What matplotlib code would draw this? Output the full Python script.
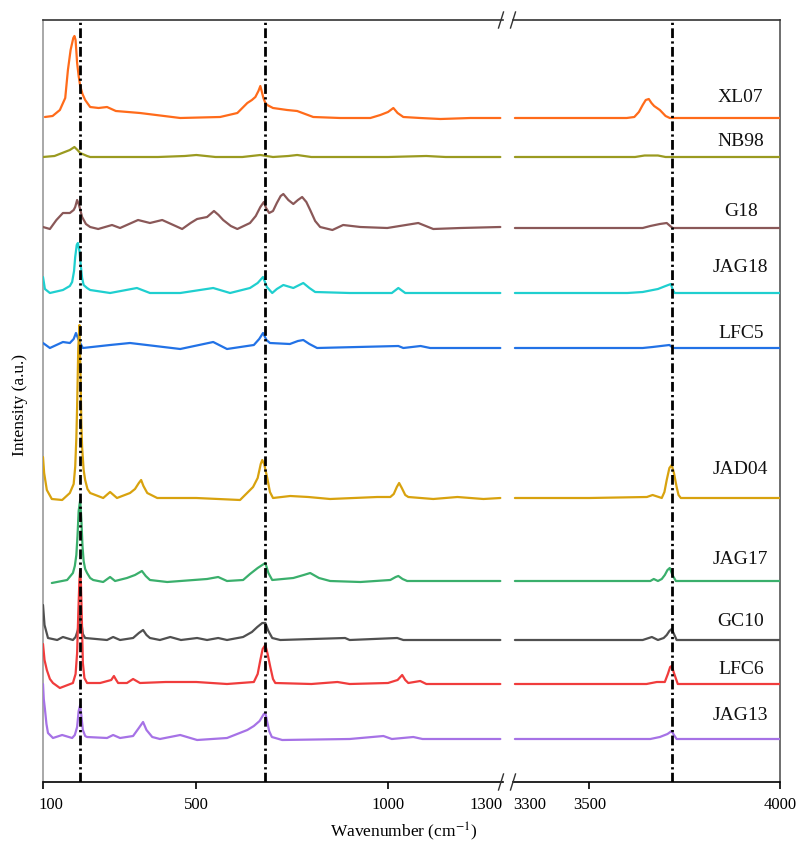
import matplotlib
matplotlib.use("Agg")
import matplotlib.pyplot as plt
from matplotlib.lines import Line2D
from matplotlib.transforms import ScaledTranslation

plt.rcParams["font.family"] = ["Liberation Serif", "DejaVu Serif"]
plt.rcParams["mathtext.fontset"] = "stix"

# ---- Raman spectra: (wavenumber cm-1, relative intensity a.u.) ----
XL07_LOW = [(105, 1), (125, 2), (144, 8), (158, 20), (165, 48), (172, 68), (179, 80), (182, 82),
            (185, 78), (189, 55), (193, 42), (197, 32), (203, 24), (210, 18), (223, 11), (245, 10),
            (267, 11), (290, 7), (353, 5), (458, 0), (562, 1), (607, 5), (633, 15), (645, 18),
            (654, 21), (662, 27), (667, 32), (671, 26), (675, 20), (680, 15), (685, 13), (700, 10),
            (737, 8), (763, 7), (805, 1), (875, 0), (954, 0), (980, 3), (1000, 6), (1014, 10),
            (1025, 5), (1040, 1), (1084, 0), (1137, -1), (1215, 0), (1293, 0)]
XL07_HIGH = [(3305, 0), (3450, 0), (3598, 0), (3618, 1), (3630, 6), (3640, 13), (3648, 18),
             (3656, 19), (3663, 15), (3670, 12), (3685, 8), (3700, 2), (3711, 0), (3800, 0),
             (4000, 0)]

NB98_LOW = [(100, 0), (130, 1), (150, 4), (170, 7), (182, 10), (190, 7), (197, 4), (215, 1),
            (223, 0), (400, 0), (470, 1), (500, 2), (550, 0), (620, 0), (667, 2), (700, 0),
            (740, 1), (763, 2), (800, 0), (1000, 0), (1100, 1), (1150, 0), (1293, 0)]
NB98_HIGH = [(3305, 0), (3620, 0), (3645, 1.5), (3680, 1.5), (3700, 0), (4000, 0)]

G18_LOW = [(100, 1), (118, -1), (135, 8), (152, 15), (170, 15), (180, 18), (184, 21), (189, 28),
           (193, 24), (196, 20), (202, 11), (212, 4), (223, 1), (244, -1), (280, 3), (301, 0),
           (348, 8), (379, 5), (411, 8), (440, 3), (463, -1), (485, 5), (502, 9), (528, 11),
           (546, 17), (558, 13), (570, 8), (590, 2), (607, -1), (640, 5), (655, 12), (667, 21),
           (676, 26), (682, 20), (690, 15), (700, 17), (710, 25), (720, 32), (727, 34),
           (740, 28), (753, 24), (765, 28), (776, 31), (787, 26), (797, 18), (810, 7), (823, 1),
           (855, -2), (883, 3), (928, 1), (998, 0), (1079, 5), (1118, -1), (1189, 0), (1293, 1)]
G18_HIGH = [(3305, 0), (3450, 0), (3640, 0), (3660, 2), (3685, 4), (3703, 5), (3712, 2),
            (3719, 0), (4000, 0)]

JAG18_LOW = [(100, 16), (105, 4), (118, 0), (152, 3), (170, 7), (176, 11), (181, 22), (184, 36),
             (188, 48), (191, 50), (195, 42), (199, 26), (202, 15), (206, 8), (215, 5), (223, 3),
             (275, 0), (345, 5), (379, 0), (458, 0), (544, 5), (588, 0), (640, 5), (660, 10),
             (674, 16), (684, 6), (698, 0), (710, 4), (727, 8), (753, 5), (779, 10), (795, 5),
             (810, 1), (900, 0), (1010, 0), (1027, 5), (1045, 0), (1293, 0)]
JAG18_HIGH = [(3305, 0), (3600, 0), (3640, 1), (3680, 4), (3700, 7), (3714, 9), (3719, 3),
              (3724, 0), (4000, 0)]

LFC5_LOW = [(100, 5), (118, 0), (152, 6), (170, 5), (180, 9), (186, 15), (191, 10), (197, 5),
            (204, 0), (275, 3), (327, 5), (458, -1), (544, 6), (580, -1), (650, 3), (664, 9),
            (674, 15), (683, 8), (692, 5), (744, 4), (765, 7), (779, 8), (795, 4), (815, 0),
            (1027, 2), (1040, 0), (1085, 2), (1110, 0), (1293, 0)]
LFC5_HIGH = [(3305, 0), (3640, 0), (3666, 1), (3710, 3), (3720, 0), (4000, 0)]

JAD04_LOW = [(100, 41), (103, 25), (110, 8), (123, -1), (150, -2), (170, 5), (180, 14), (184, 31),
             (187, 60), (189, 91), (192, 150), (195, 173), (198, 120), (200, 75), (202, 51),
             (206, 28), (210, 18), (216, 9), (223, 5), (257, 0), (275, 6), (293, 0), (327, 5),
             (340, 9), (350, 15), (356, 18), (362, 12), (372, 5), (398, 0), (500, 0), (614, -2),
             (635, 6), (648, 11), (660, 20), (668, 34), (672, 38), (677, 34), (685, 20), (692, 6),
             (700, 0), (745, 2), (792, 1), (849, -1), (972, 1), (1006, 1), (1015, 4), (1023, 11),
             (1029, 15), (1036, 10), (1045, 3), (1053, 1), (1118, -1), (1181, 1), (1249, -1),
             (1293, 0)]
JAD04_HIGH = [(3305, 0), (3500, 0), (3651, 1), (3666, 3), (3690, 0), (3697, 6), (3703, 18),
              (3710, 30), (3716, 33), (3722, 25), (3729, 11), (3734, 3), (3740, 0), (4000, 0)]

JAG17_LOW = [(123, -2), (163, 1), (178, 8), (183, 15), (187, 26), (190, 45), (193, 70), (197, 81),
             (200, 62), (203, 35), (206, 20), (210, 12), (215, 8), (223, 3), (231, 1), (257, -1),
             (275, 4), (288, 0), (319, 3), (340, 6), (358, 10), (368, 5), (379, 1), (424, -1),
             (528, 2), (557, 4), (580, 0), (622, 1), (640, 7), (660, 13), (680, 18), (688, 8),
             (698, 1), (753, 3), (780, 6), (797, 8), (820, 3), (849, 0), (928, -1), (1006, 1),
             (1020, 4), (1027, 5), (1038, 2), (1050, 0), (1293, 0)]
JAG17_HIGH = [(3305, 0), (3660, 0), (3669, 2), (3680, 0), (3690, 2), (3698, 6), (3705, 11),
              (3711, 13), (3718, 6), (3727, 0), (4000, 0)]

GC10_LOW = [(100, 35), (104, 15), (113, 2), (137, 0), (152, 3), (178, 0), (185, 3), (191, 10),
            (194, 20), (197, 25), (200, 18), (204, 6), (210, 2), (267, 0), (283, 3), (301, 0),
            (335, 2), (350, 7), (361, 10), (370, 5), (379, 2), (405, 0), (432, 3), (460, 0),
            (502, 2), (528, 0), (557, 2), (580, 0), (622, 3), (645, 8), (659, 13), (672, 17),
            (680, 17), (688, 9), (698, 2), (719, 0), (888, 2), (900, 0), (1024, 2), (1040, 0),
            (1293, 0)]
GC10_HIGH = [(3305, 0), (3640, 0), (3664, 3), (3680, 0), (3695, 2), (3703, 5), (3710, 9),
             (3716, 11), (3722, 6), (3729, 0), (4000, 0)]

LFC6_LOW = [(100, 40), (104, 24), (110, 14), (118, 5), (126, 1), (144, -4), (178, 1), (185, 10),
            (189, 31), (192, 70), (195, 104), (197, 114), (199, 100), (201, 70), (204, 21),
            (208, 6), (215, 1), (249, 1), (278, 4), (285, 8), (291, 4), (296, 1), (319, 1),
            (335, 5), (353, 1), (420, 2), (500, 2), (580, 0), (650, 2), (660, 10), (667, 24),
            (673, 35), (680, 39), (686, 30), (693, 17), (700, 5), (706, 1), (800, 0), (868, 2),
            (900, 0), (1000, 1), (1025, 4), (1037, 9), (1045, 4), (1053, 1), (1084, 3), (1100, 0),
            (1293, 0)]
LFC6_HIGH = [(3305, 0), (3650, 0), (3677, 2), (3698, 2), (3706, 10), (3712, 17), (3716, 18),
             (3722, 11), (3732, 0), (4000, 0)]

JAG13_LOW = [(100, 55), (102, 40), (105, 30), (109, 15), (113, 6), (126, 1), (150, 4), (176, 1),
             (183, 4), (189, 12), (193, 28), (197, 34), (201, 20), (204, 9), (210, 3), (215, 2),
             (267, 1), (283, 4), (301, 1), (335, 3), (350, 11), (361, 17), (370, 9), (385, 2),
             (405, 0), (458, 4), (502, -1), (580, 1), (633, 9), (650, 13), (665, 18), (676, 25),
             (680, 26), (685, 17), (690, 8), (697, 2), (706, 1), (724, -1), (900, 0), (988, 3),
             (1010, 0), (1066, 2), (1090, 0), (1293, 0)]
JAG13_HIGH = [(3305, 0), (3660, 0), (3685, 2), (3705, 5), (3716, 8), (3722, 4), (3729, 0),
              (4000, 0)]

SAMPLES = ["XL07", "NB98", "G18", "JAG18", "LFC5", "JAD04", "JAG17", "GC10", "LFC6", "JAG13"]
LOW = [XL07_LOW, NB98_LOW, G18_LOW, JAG18_LOW, LFC5_LOW, JAD04_LOW, JAG17_LOW, GC10_LOW,
       LFC6_LOW, JAG13_LOW]
HIGH = [XL07_HIGH, NB98_HIGH, G18_HIGH, JAG18_HIGH, LFC5_HIGH, JAD04_HIGH, JAG17_HIGH,
        GC10_HIGH, LFC6_HIGH, JAG13_HIGH]

# vertical stacking offsets and label heights
OFFSETS = [664, 625, 554, 489, 434, 284, 201, 142, 98, 43]
LABEL_Y = [685, 641, 571, 515, 449, 312, 222, 160, 112, 66]
COLORS = ["#ff6b1a", "#9a9a20", "#8a5858", "#1fcfcf", "#2272e6", "#d8a20e", "#3aaf6c",
          "#505050", "#f03c3c", "#a672e6"]

# reference band positions
BANDS_LOW = [197, 680]
BANDS_HIGH = [3716]

LOW_RANGE = (100, 1300)
HIGH_RANGE = (3300, 4000)
LOW_TICKS = [100, 500, 1000, 1300]
HIGH_TICKS = [3300, 3500, 4000]

W, H = 798, 847
fig = plt.figure(figsize=(W / 100, H / 100), dpi=100)


def fx(px):
    return px / W


def fy(py):
    return 1 - py / H


TOP, BOT = 20, 782
axL = fig.add_axes([fx(43), fy(BOT), fx(503) - fx(43), fy(TOP) - fy(BOT)])
axR = fig.add_axes([fx(513), fy(BOT), fx(780) - fx(513), fy(TOP) - fy(BOT)])

for ax, data, rng in ((axL, LOW, LOW_RANGE), (axR, HIGH, HIGH_RANGE)):
    for seg, off, col in zip(data, OFFSETS, COLORS):
        ax.plot([w for w, _ in seg], [off + v for _, v in seg], color=col, lw=1.6,
                solid_joinstyle="round", solid_capstyle="round", zorder=3)
    ax.set_xlim(*rng)
    ax.set_ylim(0, BOT - TOP)
    ax.set_yticks([])

dash = (0, (3.5, 1.2, 0.8, 1.2))
for b in BANDS_LOW:
    axL.axvline(b, color="black", lw=2, ls=dash, zorder=5)
for b in BANDS_HIGH:
    axR.axvline(b, color="black", lw=2, ls=dash, zorder=5)

for name, y in zip(SAMPLES, LABEL_Y):
    axR.text(3897, y, name, ha="center", va="center", fontsize=14, color="#111111")

# spines
axL.spines["right"].set_visible(False)
axR.spines["left"].set_visible(False)
axL.spines["left"].set_color("#999999")
axL.spines["top"].set_color("#333333")
axR.spines["top"].set_color("#333333")
axR.spines["right"].set_color("#555555")
for ax in (axL, axR):
    ax.spines["bottom"].set_color("black")
    for s in ax.spines.values():
        s.set_linewidth(1.2)

# x ticks
axL.set_xticks(LOW_TICKS)
axL.set_xticklabels([str(t) for t in LOW_TICKS])
axR.set_xticks(HIGH_TICKS)
axR.set_xticklabels([str(t) for t in HIGH_TICKS])
for ax in (axL, axR):
    ax.tick_params(axis="x", direction="out", length=5, width=1.2, labelsize=12, pad=6,
                   color="black")

tl = axL.xaxis.get_major_ticks()
tl[-1].tick1line.set_visible(False)
lab = axL.get_xticklabels()
lab[-1].set_ha("right")
lab[0].set_ha("left")
lab[0].set_transform(lab[0].get_transform() + ScaledTranslation(-5 / 100, 0, fig.dpi_scale_trans))
tr = axR.xaxis.get_major_ticks()
tr[0].tick1line.set_visible(False)
axR.get_xticklabels()[0].set_ha("left")

# axis break marks
for xc in (501, 513):
    for yc in (TOP, BOT):
        fig.add_artist(Line2D([fx(xc - 2.5), fx(xc + 2.5)], [fy(yc + 8), fy(yc - 8)],
                              color="#333333", lw=1.0, transform=fig.transFigure))

fig.text(fx(404), fy(832), "Wavenumber (cm$^{-1}$)", ha="center", va="center", fontsize=12.5)
fig.text(fx(20), fy(405), "Intensity (a.u.)", ha="center", va="center", rotation=90,
         fontsize=12.5)

fig.savefig("out.png", dpi=100)
